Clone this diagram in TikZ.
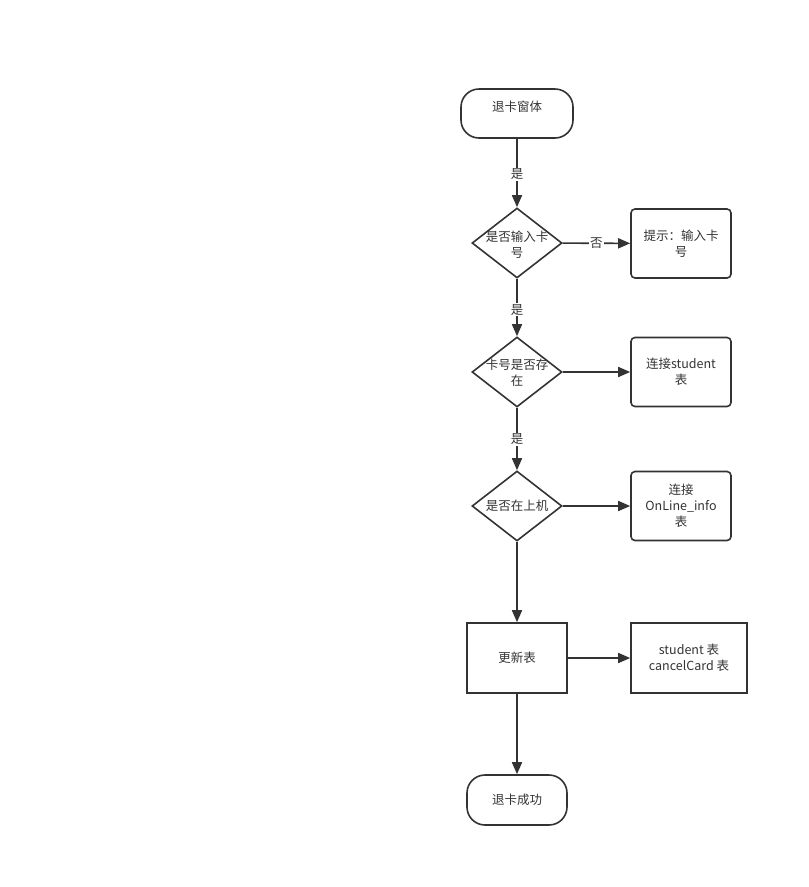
\documentclass[tikz,border=0pt]{standalone}
\usepackage{fontspec}
\setmainfont{Noto Sans CJK SC}
\usetikzlibrary{shapes.geometric,arrows.meta}
\definecolor{ink}{HTML}{333333}
\tikzset{
  base/.style={draw=ink, line width=1.6pt, text=ink, align=center, font=\fontsize{12.5}{16}\selectfont, inner sep=0pt},
  term/.style={base, rounded corners=18pt, minimum width=112pt, minimum height=49pt},
  decision/.style={base, diamond, aspect=1.2857, minimum width=90pt, minimum height=70pt},
  roundbox/.style={base, rounded corners=4pt, minimum width=100pt, minimum height=69pt},
  sharpbox/.style={base, minimum width=100pt, minimum height=70pt},
  conn/.style={draw=ink, line width=1.6pt, -{Triangle[length=12pt,width=10pt]}},
  lab/.style={fill=white, text=ink, font=\fontsize{12.5}{16}\selectfont, inner sep=1pt},
  dtext/.style={text=ink, font=\fontsize{12.5}{16}\selectfont, align=center}
}
\begin{document}
\begin{tikzpicture}[x=1pt,y=-1pt]
\useasboundingbox (0,0) rectangle (809,887);
\node[term] (start) at (517,113.5) {};
\node[dtext] (t0) at (517,107) {退卡窗体};
\node[decision] (d1) at (517,243) {};
\node[dtext] (t1) at (517,244.5) {是否输入卡\\号};
\node[roundbox] (tip) at (681,243.5) {提示：输入卡\\号};
\node[decision] (d2) at (517,372) {};
\node[dtext] (t2) at (517,373) {卡号是否存\\在};
\node[roundbox] (stu) at (681,372) {连接student\\表};
\node[decision] (d3) at (517,506) {};
\node[dtext] (t3) at (517,506) {是否在上机};
\node[roundbox] (onl) at (681,506) {连接\\OnLine\_info\\表};
\node[sharpbox] (upd) at (517,658) {更新表};
\node[sharpbox, minimum width=116pt] (tabs) at (689,658) {student 表\\cancelCard 表};
\node[term, minimum width=100pt, minimum height=50pt] (end) at (517,800) {退卡成功};

\draw[conn] (start) -- node[lab, pos=0.52] {是} (d1);
\draw[conn] (d1) -- node[lab, pos=0.5] {否} (tip);
\draw[conn] (d1) -- node[lab, pos=0.54] {是} (d2);
\draw[conn] (d2) -- (stu);
\draw[conn] (d2) -- node[lab, pos=0.5] {是} (d3);
\draw[conn] (d3) -- (onl);
\draw[conn] (d3) -- (upd);
\draw[conn] (upd) -- (tabs);
\draw[conn] (upd) -- (end);
\end{tikzpicture}
\end{document}
